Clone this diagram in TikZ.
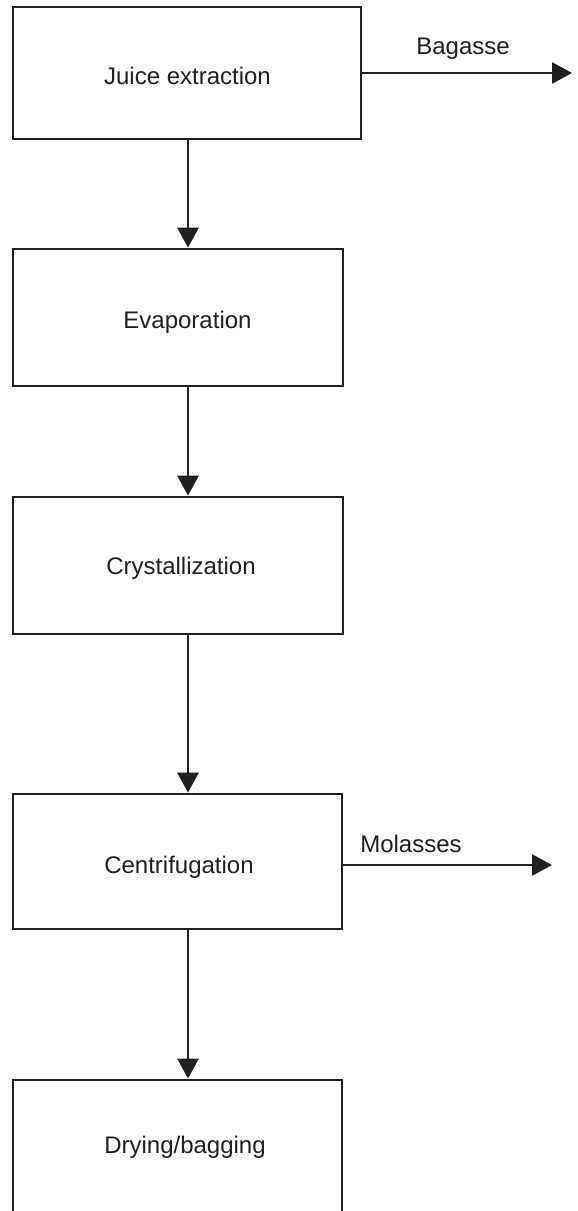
\documentclass[tikz,border=0pt]{standalone}
\usepackage{fontspec}
\setmainfont{Liberation Sans}
\usetikzlibrary{arrows.meta}
\definecolor{ink}{HTML}{231F20}
\begin{document}
\begin{tikzpicture}[x=1pt,y=-1pt,
  box/.style={draw=ink, line width=2.8pt, rectangle, inner sep=0pt},
  lbl/.style={text=ink, anchor=base, inner sep=0pt, font=\fontsize{24}{28}\selectfont},
  arr/.style={draw=ink, line width=2.8pt, -{Triangle[length=20pt,width=21pt]}}]
\useasboundingbox (0,0) rectangle (578,1211);
\clip (0,0) rectangle (578,1211);
% boxes
\node[box, minimum width=348pt, minimum height=132pt] (b1) at (187,73) {};
\node[box, minimum width=330pt, minimum height=137pt] (b2) at (178,317.5) {};
\node[box, minimum width=330pt, minimum height=137pt] (b3) at (178,565.5) {};
\node[box, minimum width=329pt, minimum height=135pt] (b4) at (177.5,861.5) {};
\node[box, minimum width=329pt, minimum height=180pt] (b5) at (177.5,1170) {};
% texts
\node[lbl] (t1) at (187.5,84) {Juice extraction};
\node[lbl] (t2) at (187.5,328) {Evaporation};
\node[lbl] (t3) at (181,574) {Crystallization};
\node[lbl] (t4) at (179,873) {Centrifugation};
\node[lbl] (t5) at (185,1153) {Drying/bagging};
\node[lbl] (lb) at (463,54) {Bagasse};
\node[lbl] (lm) at (411,852) {Molasses};
% connectors
\coordinate (ax) at (188,0);
\coordinate (bagend) at (572,73);
\coordinate (molend) at (552,865);
\draw[arr] (b1.south -| ax) -- (b2.north -| ax);
\draw[arr] (b2.south -| ax) -- (b3.north -| ax);
\draw[arr] (b3.south -| ax) -- (b4.north -| ax);
\draw[arr] (b4.south -| ax) -- (b5.north -| ax);
\draw[arr] (b1.east) -- (bagend);
\draw[arr] (b4.east |- molend) -- (molend);
\end{tikzpicture}
\end{document}
